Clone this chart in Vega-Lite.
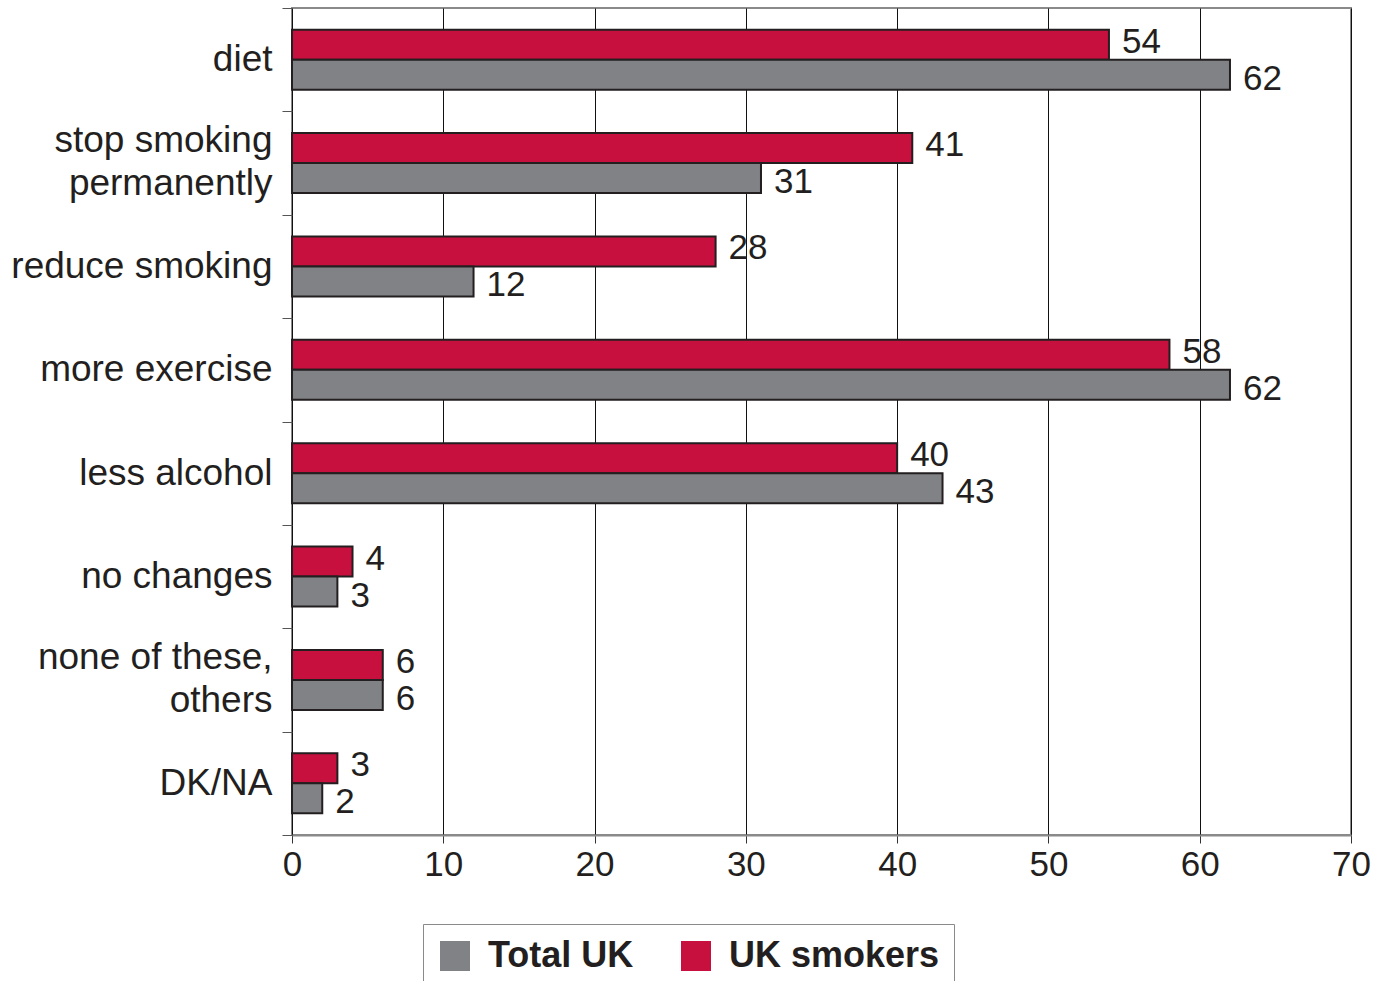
{
  "$schema": "https://vega.github.io/schema/vega-lite/v6.json",
  "width": 1059,
  "height": 827,
  "autosize": {"type": "none"},
  "padding": {"left": 292, "top": 8, "right": 34, "bottom": 146},
  "background": "white",
  "config": {
    "font": "Liberation Sans",
    "view": {"stroke": "#8a8a8a", "strokeWidth": 2},
    "axis": {"labelColor": "#231f20", "labelFont": "Liberation Sans"}
  },
  "data": {
    "values": [
      {"cat": "diet", "series": "UK smokers", "value": 54},
      {"cat": "diet", "series": "Total UK", "value": 62},
      {"cat": "stop smoking|permanently", "series": "UK smokers", "value": 41},
      {"cat": "stop smoking|permanently", "series": "Total UK", "value": 31},
      {"cat": "reduce smoking", "series": "UK smokers", "value": 28},
      {"cat": "reduce smoking", "series": "Total UK", "value": 12},
      {"cat": "more exercise", "series": "UK smokers", "value": 58},
      {"cat": "more exercise", "series": "Total UK", "value": 62},
      {"cat": "less alcohol", "series": "UK smokers", "value": 40},
      {"cat": "less alcohol", "series": "Total UK", "value": 43},
      {"cat": "no changes", "series": "UK smokers", "value": 4},
      {"cat": "no changes", "series": "Total UK", "value": 3},
      {"cat": "none of these,|others", "series": "UK smokers", "value": 6},
      {"cat": "none of these,|others", "series": "Total UK", "value": 6},
      {"cat": "DK/NA", "series": "UK smokers", "value": 3},
      {"cat": "DK/NA", "series": "Total UK", "value": 2}
    ]
  },
  "encoding": {
    "x": {
      "field": "value",
      "type": "quantitative",
      "scale": {"domain": [0, 70], "nice": false},
      "axis": {
        "title": null,
        "values": [0, 10, 20, 30, 40, 50, 60, 70],
        "grid": true,
        "gridColor": "#111",
        "gridWidth": 1,
        "domain": true,
        "domainColor": "#8a8a8a",
        "domainWidth": 2,
        "tickColor": "#333",
        "tickSize": 8,
        "labelFontSize": 35,
        "labelPadding": 4,
        "labelFlush": false
      }
    },
    "yOffset": {
      "field": "series",
      "type": "nominal",
      "sort": ["UK smokers", "Total UK"],
      "scale": {"paddingInner": 0, "paddingOuter": 0.72}
    }
  },
  "layer": [
    {
      "mark": {"type": "bar", "stroke": "#231f20", "strokeWidth": 2},
      "encoding": {
        "y": {
          "field": "cat",
          "type": "nominal",
          "sort": null,
          "scale": {"paddingInner": 0, "paddingOuter": 0},
          "axis": {
            "title": null,
            "orient": "left",
            "domain": false,
            "ticks": true,
            "tickBand": "extent",
            "tickSize": 10,
            "tickColor": "#555",
            "tickWidth": 1,
            "labelFontSize": 37,
            "labelPadding": 10,
            "labelLimit": 400,
            "labelExpr": "indexof(datum.label, '|') >= 0 ? '' : datum.label"
          }
        },
        "color": {
          "field": "series",
          "type": "nominal",
          "scale": {"domain": ["Total UK", "UK smokers"], "range": ["#818285", "#C8103E"]},
          "legend": {
            "title": null,
            "orient": "none",
            "direction": "horizontal",
            "legendX": 131,
            "legendY": 916,
            "symbolType": "square",
            "symbolSize": 900,
            "symbolStrokeWidth": 0,
            "labelFontSize": 36,
            "labelFontWeight": "bold",
            "labelColor": "#231f20",
            "labelLimit": 400,
            "labelOffset": 15,
            "columnPadding": 44,
            "padding": 14,
            "strokeColor": "#8a8a8a",
            "fillColor": "white"
          }
        }
      }
    },
    {
      "transform": [{"filter": "datum.series == 'UK smokers'"}],
      "mark": {"type": "text", "align": "left", "baseline": "middle", "dx": 13, "dy": -3, "fontSize": 35, "color": "#231f20"},
      "encoding": {
        "y": {
          "field": "cat",
          "type": "nominal",
          "sort": null,
          "axis": {
            "title": null,
            "orient": "left",
            "domain": false,
            "ticks": false,
            "labelFontSize": 37,
            "labelPadding": 20,
            "labelLimit": 400,
            "labelLineHeight": 43,
            "labelBaseline": "line-bottom",
            "labelExpr": "indexof(datum.label, '|') >= 0 ? split(datum.label, '|') : ''"
          }
        },
        "text": {"field": "value", "type": "quantitative"}
      }
    },
    {
      "transform": [{"filter": "datum.series == 'Total UK'"}],
      "mark": {"type": "text", "align": "left", "baseline": "middle", "dx": 13, "dy": 4, "fontSize": 35, "color": "#231f20"},
      "encoding": {
        "y": {"field": "cat", "type": "nominal", "sort": null, "axis": null},
        "text": {"field": "value", "type": "quantitative"}
      }
    }
  ],
  "resolve": {"axis": {"y": "independent"}}
}
